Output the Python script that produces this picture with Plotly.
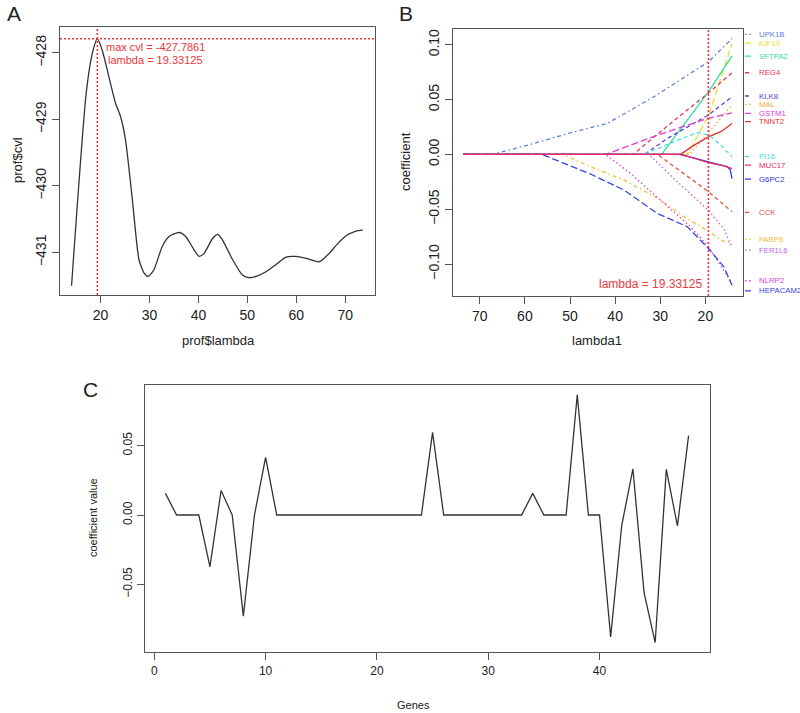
import plotly.graph_objects as go

W, H = 800, 713
FONT = "Liberation Sans, Arial, Helvetica, sans-serif"
RED = "#e8383c"

# ---------------- Panel A data ----------------
lambda_A = [14.06, 17.05, 18.3, 19.33, 20.33, 21.7, 23.07, 24.1, 25.1, 26.5, 27.85, 28.9,
            29.75, 30.9, 32.6, 34.0, 36.05, 37.4, 39.1, 40.15, 41.2, 42.9, 44.0, 44.9,
            47.0, 49.0, 50.4, 51.8, 53.8, 55.9, 57.9, 60.0, 62.0, 64.7, 66.8, 68.2,
            70.2, 72.2, 73.6]
cvl_A = [-431.50, -428.61, -428.01, -427.786, -427.96, -428.36, -428.76, -428.96, -429.31,
         -430.21, -431.11, -431.31, -431.36, -431.26, -430.91, -430.76, -430.70, -430.76,
         -430.96, -431.06, -431.01, -430.79, -430.73, -430.81, -431.11, -431.34, -431.38,
         -431.36, -431.29, -431.18, -431.07, -431.06, -431.09, -431.14, -431.01, -430.89,
         -430.75, -430.68, -430.66]
best_lambda = 19.33125
max_cvl = -427.7861

# ---------------- Panel B data (coefficient paths) ----------------
gene_names = ["UPK1B", "KIF19", "SFTPA2", "REG4", "KLK8", "MAL", "GSTM1", "TNNT2",
              "PI16", "G6PC2", "CCK", "FABP6", "FER1L6", "NLRP2", "HEPACAM2", "MUC17"]
gene_colors = ["#5b7ee8", "#e8e030", "#30e0a0", "#e83858", "#5a40d8", "#f0a848", "#e040d0",
               "#e83030", "#40e0e0", "#3838e0", "#e85040", "#f0c030", "#c060e8", "#e040e0",
               "#3848e0", "#e82870"]
# R-like line types
LTY = {"solid": "solid", "dashed": "4px,3px", "dotted": "1.5px,2.5px",
       "dotdash": "1.5px,3px,4px,3px", "longdash": "7px,3px"}
gene_lty = ["dotdash", "longdash", "solid", "dashed", "dashed", "dotted", "longdash", "solid",
            "dashed", "solid", "dashed", "dotdash", "dotted", "dotted", "longdash", "solid"]
label_y = [0.1095, 0.1015, 0.0897, 0.0745, 0.0533, 0.0457, 0.0375, 0.0300,
           -0.0020, -0.0225, -0.0529, -0.0775, -0.0873, -0.1153, -0.1245, -0.0098]

lam_UPK1B = [73.7, 67.2, 58.0, 49.9, 41.7, 31.4, 19.33, 14.1]
coef_UPK1B = [0, 0, 0.0100, 0.0197, 0.0283, 0.0526, 0.0845, 0.1058]
lam_KIF19 = [73.7, 24.0, 19.33, 14.1]
coef_KIF19 = [0, 0, 0.035, 0.101]
lam_SFTPA2 = [73.7, 29.7, 19.33, 14.1]
coef_SFTPA2 = [0, 0, 0.057, 0.090]
lam_REG4 = [73.7, 36.0, 28.4, 19.33, 14.1]
coef_REG4 = [0, 0, 0.026, 0.056, 0.0745]
lam_KLK8 = [73.7, 33.5, 28.4, 19.33, 14.1]
coef_KLK8 = [0, 0, 0.0146, 0.036, 0.0526]
lam_MAL = [73.7, 23.5, 19.33, 14.1]
coef_MAL = [0, 0, 0.020, 0.045]
lam_GSTM1 = [73.7, 42.1, 30.6, 19.33, 14.1]
coef_GSTM1 = [0, 0, 0.0176, 0.033, 0.038]
lam_TNNT2 = [73.7, 25.5, 22.5, 19.33, 16.5, 14.1]
coef_TNNT2 = [0, 0, 0.0085, 0.016, 0.021, 0.0283]
lam_PI16 = [73.7, 33.6, 27.0, 21.8, 19.2, 16.6, 14.1]
coef_PI16 = [0, 0, 0.0115, 0.020, 0.0176, 0.0085, -0.002]
lam_G6PC2 = [73.7, 25.5, 19.33, 15.2, 14.5, 14.1]
coef_G6PC2 = [0, 0, -0.0068, -0.011, -0.014, -0.022]
lam_CCK = [73.7, 30.6, 19.33, 14.1]
coef_CCK = [0, 0, -0.034, -0.0524]
lam_FABP6 = [73.7, 51.7, 45.4, 38.0, 30.6, 24.7, 19.33, 16.2, 14.1]
coef_FABP6 = [0, 0, -0.0113, -0.0235, -0.040, -0.057, -0.070, -0.079, -0.081]
lam_FER1L6 = [73.7, 32.5, 27.0, 19.33, 15.9, 14.1]
coef_FER1L6 = [0, 0, -0.022, -0.051, -0.068, -0.085]
lam_NLRP2 = [73.7, 42.1, 36.6, 29.2, 23.3, 19.33, 14.1]
coef_NLRP2 = [0, 0, -0.0174, -0.0447, -0.066, -0.084, -0.1177]
lam_HEPACAM2 = [73.7, 56.2, 45.4, 38.0, 30.6, 24.0, 19.33, 15.9, 14.1]
coef_HEPACAM2 = [0, 0, -0.018, -0.0326, -0.054, -0.066, -0.0858, -0.1026, -0.1193]
lam_MUC17 = [73.7, 25.7, 22.0, 19.33, 15.5, 14.1]
coef_MUC17 = [0, 0, -0.004, -0.0075, -0.011, -0.013]

paths_lam = [lam_UPK1B, lam_KIF19, lam_SFTPA2, lam_REG4, lam_KLK8, lam_MAL, lam_GSTM1,
             lam_TNNT2, lam_PI16, lam_G6PC2, lam_CCK, lam_FABP6, lam_FER1L6, lam_NLRP2,
             lam_HEPACAM2, lam_MUC17]
paths_coef = [coef_UPK1B, coef_KIF19, coef_SFTPA2, coef_REG4, coef_KLK8, coef_MAL, coef_GSTM1,
              coef_TNNT2, coef_PI16, coef_G6PC2, coef_CCK, coef_FABP6, coef_FER1L6, coef_NLRP2,
              coef_HEPACAM2, coef_MUC17]

# ---------------- Panel C data ----------------
gene_index = list(range(1, 49))
coef_C = [0.0156, 0, 0, 0, -0.0373, 0.0176, 0, -0.0729, 0, 0.0416,
          0, 0, 0, 0, 0, 0, 0, 0, 0, 0,
          0, 0, 0, 0, 0.0596, 0, 0, 0, 0, 0,
          0, 0, 0, 0.0156, 0, 0, 0, 0.0866, 0, 0,
          -0.0878, -0.0072, 0.0332, -0.056, -0.0919, 0.0329, -0.0079, 0.0572]

fig = go.Figure()

# Panel A
fig.add_trace(go.Scatter(x=lambda_A, y=cvl_A, mode="lines",
                         line=dict(color="#333333", width=1.3, shape="spline", smoothing=0.6),
                         xaxis="x", yaxis="y", showlegend=False))

# Panel B
for i, (nm, col, lty, lx, ly) in enumerate(zip(gene_names, gene_colors, gene_lty, paths_lam, paths_coef)):
    dash = LTY[lty]
    fig.add_trace(go.Scatter(x=lx, y=ly, mode="lines", line=dict(color=col, width=1.3, dash=dash),
                             xaxis="x2", yaxis="y2", showlegend=False, name=nm))
    fig.add_trace(go.Scatter(x=[0, 1], y=[label_y[i]] * 2, mode="lines",
                             line=dict(color=col, width=1.3, dash=dash), xaxis="x4", yaxis="y2",
                             showlegend=False, cliponaxis=False))
    fig.add_annotation(x=757 / W, xref="paper", y=label_y[i], yref="y2",
                       text=nm, showarrow=False, xanchor="left", yanchor="middle",
                       font=dict(size=7.8, color=col, family=FONT))

# Panel C
fig.add_trace(go.Scatter(x=gene_index, y=coef_C, mode="lines", line=dict(color="#333333", width=1.3),
                         xaxis="x3", yaxis="y3", showlegend=False))

axis_common = dict(showline=True, linecolor="#555555", linewidth=1, mirror=True, ticks="outside",
                   ticklen=7, tickcolor="#555555", showgrid=False, zeroline=False)

fig.update_layout(
    width=W, height=H, margin=dict(l=0, r=0, t=0, b=0),
    paper_bgcolor="white", plot_bgcolor="white",
    font=dict(family=FONT, color="#222222"),
    xaxis=dict(axis_common, domain=[60 / W, 375 / W], range=[11.7, 76.1], anchor="y",
               tickvals=[20, 30, 40, 50, 60, 70], tickfont=dict(family=FONT, size=14, color="#222")),
    yaxis=dict(axis_common, domain=[1 - 295 / H, 1 - 27 / H], range=[-431.64, -427.61], anchor="x",
               tickvals=[-431, -430, -429, -428], tickangle=-90,
               tickfont=dict(family=FONT, size=14, color="#222")),
    xaxis2=dict(axis_common, domain=[452.7 / W, 743.3 / W], range=[76.0, 11.6], anchor="y2",
                tickvals=[20, 30, 40, 50, 60, 70], tickfont=dict(family=FONT, size=14, color="#222")),
    yaxis2=dict(axis_common, domain=[1 - 296 / H, 1 - 28.5 / H], range=[-0.1292, 0.1149], anchor="x2",
                tickvals=[-0.10, -0.05, 0.0, 0.05, 0.10], tickformat=".2f", tickangle=-90,
                tickfont=dict(family=FONT, size=14, color="#222")),
    xaxis4=dict(domain=[745 / W, 751 / W], range=[0, 1], anchor="y2", visible=False),
    xaxis3=dict(axis_common, domain=[144.5 / W, 709.5 / W], range=[-0.88, 49.88], anchor="y3",
                tickvals=[0, 10, 20, 30, 40], tickfont=dict(family=FONT, size=12, color="#222")),
    yaxis3=dict(axis_common, domain=[1 - 652.4 / H, 1 - 385 / H], range=[-0.0990, 0.0937], anchor="x3",
                tickvals=[-0.05, 0.0, 0.05], tickformat=".2f", tickangle=-90,
                tickfont=dict(family=FONT, size=12, color="#222")),
)

# reference lines
fig.add_shape(type="line", xref="x domain", yref="y", x0=0, x1=1, y0=max_cvl, y1=max_cvl,
              line=dict(color=RED, width=1.6, dash="2px,2px"))
fig.add_shape(type="line", xref="x", yref="y domain", x0=best_lambda, x1=best_lambda, y0=0, y1=1,
              line=dict(color=RED, width=1.6, dash="2px,2px"))
fig.add_shape(type="line", xref="x2", yref="y2 domain", x0=best_lambda, x1=best_lambda, y0=0, y1=1,
              line=dict(color=RED, width=1.6, dash="2px,2px"))

# in-plot text
fig.add_annotation(x=31.3, y=-427.915, xref="x", yref="y", text="max cvl = -427.7861", showarrow=False,
                   font=dict(size=11, color=RED, family=FONT))
fig.add_annotation(x=31.3, y=-428.11, xref="x", yref="y", text="lambda = 19.33125", showarrow=False,
                   font=dict(size=11, color=RED, family=FONT))
fig.add_annotation(x=20.4, y=-0.1186, xref="x2", yref="y2", text="lambda = 19.33125", showarrow=False,
                   xanchor="right", font=dict(size=12, color=RED, family=FONT))


def title(text, px, py, size, angle=0):
    fig.add_annotation(x=px / W, y=1 - py / H, xref="paper", yref="paper", text=text, showarrow=False,
                       textangle=angle, xanchor="center", yanchor="middle",
                       font=dict(size=size, color="#222222", family=FONT))


# axis titles
title("prof$lambda", 218, 340, 13)
title("prof$cvl", 17, 160, 13, -90)
title("lambda1", 597, 340, 13)
title("coefficient", 405, 162, 13, -90)
title("Genes", 413, 705, 11)
title("coefficient value", 93, 518, 11, -90)

# panel letters
title("A", 14, 13, 21)
title("B", 406, 13, 21)
title("C", 90, 389, 21)

fig.write_html("out.html", config={"displayModeBar": False},
               post_script="document.body.style.margin='0';document.body.style.overflow='hidden';")
